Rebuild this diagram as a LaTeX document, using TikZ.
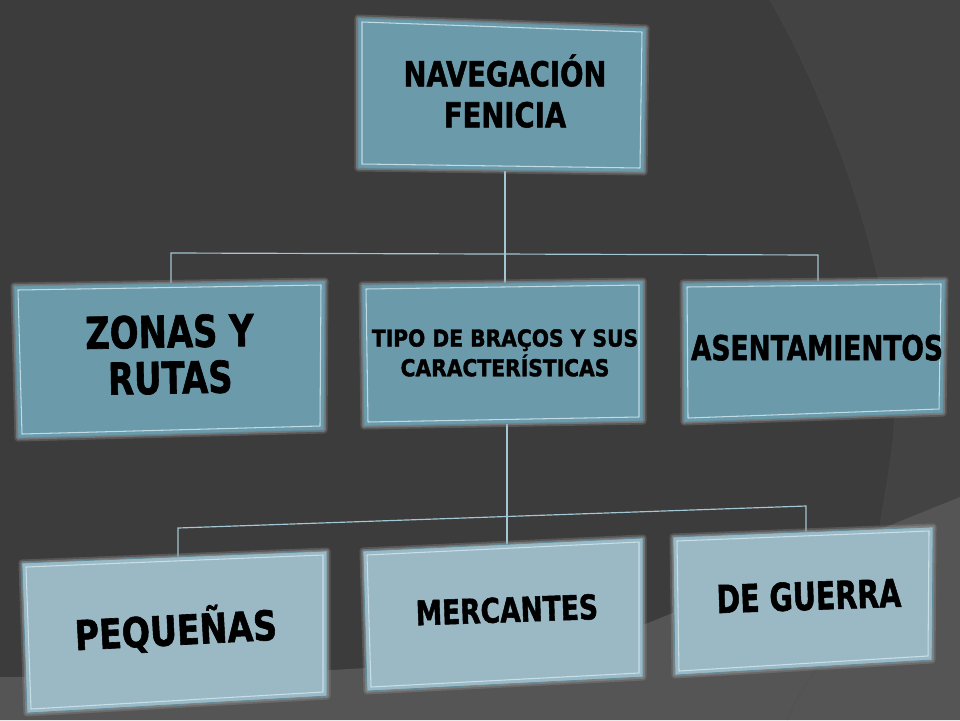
\documentclass[tikz,border=0pt]{standalone}
\usepackage{fontspec}
\usepackage{graphicx}
\newfontfamily\lblfont{DejaVu Sans}[BoldFeatures={FakeBold=1.6}]
\usetikzlibrary{calc}
\definecolor{bgbase}{HTML}{3C3C3C}
\definecolor{bgright}{HTML}{434343}
\definecolor{bgfloor}{HTML}{555555}
\definecolor{boxdark}{HTML}{6B9AAB}
\definecolor{boxlight}{HTML}{9BB9C5}
\definecolor{boxhi}{HTML}{CFE7EF}
\definecolor{boxedge}{HTML}{5F8B9B}
\definecolor{conn}{HTML}{A3C6D4}
\newcommand\drawbox[5]{%
  \draw[line width=6pt, gray!70, opacity=.25, line join=round] (#1)--(#2)--(#3)--(#4)--cycle;
  \draw[line width=3pt, gray!80, opacity=.45, line join=round] (#1)--(#2)--(#3)--(#4)--cycle;
  \fill[#5, draw=boxedge, line width=.6pt] (#1)--(#2)--(#3)--(#4)--cycle;
  \draw[boxhi, line width=.9pt, opacity=.85, line join=round]
    ($(#1)+(4,4)$)--($(#2)+(-4,4)$)--($(#3)+(-4,-4)$)--($(#4)+(4,-4)$)--cycle;
}
\newcommand\lbl[4]{\fontsize{#1}{#2}\selectfont\lblfont\bfseries\scalebox{#3}[1]{\begin{tabular}{@{}c@{}}#4\end{tabular}}}
\begin{document}
\begin{tikzpicture}[x=0.03cm,y=-0.03cm,
  link/.style={conn, line width=1pt},
  lab/.style={inner sep=0pt, text=black}]
\useasboundingbox (0,0) rectangle (960,720);
% background
\fill[bgbase] (0,0) rectangle (960,720);
\fill[bgright] (770,0) .. controls (850,140) and (905,330) .. (893,440)
  .. controls (889,475) and (884,500) .. (880,525) -- (960,525) -- (960,0) -- cycle;
\draw[black!70, opacity=.35, line width=1pt] (770,0) .. controls (850,140) and (905,330) .. (893,440)
  .. controls (889,475) and (884,500) .. (880,525);
\fill[bgfloor] (0,677) .. controls (450,677) and (560,650) .. (643,625) -- (960,497) -- (960,720) -- (0,720) -- cycle;
\draw[black!70, opacity=.3, line width=1pt] (787,720) .. controls (800,690) and (815,668) .. (835,650);

% box corners
\coordinate (A1) at (358,18);  \coordinate (A2) at (646,28);  \coordinate (A3) at (644,172); \coordinate (A4) at (358,168);
\coordinate (B1) at (14,286);  \coordinate (B2) at (325,281); \coordinate (B3) at (324,430); \coordinate (B4) at (18,438);
\coordinate (C1) at (362,285); \coordinate (C2) at (643,281); \coordinate (C3) at (643,421); \coordinate (C4) at (364,426);
\coordinate (D1) at (683,283); \coordinate (D2) at (945,280); \coordinate (D3) at (943,413); \coordinate (D4) at (684,422);
\coordinate (E1) at (22,563);  \coordinate (E2) at (327,551); \coordinate (E3) at (327,696); \coordinate (E4) at (27,713);
\coordinate (F1) at (363,551); \coordinate (F2) at (643,538); \coordinate (F3) at (643,677); \coordinate (F4) at (367,691);
\coordinate (G1) at (673,537); \coordinate (G2) at (933,527); \coordinate (G3) at (932,660); \coordinate (G4) at (675,675);

% connector anchors
\coordinate (A-s) at (505,171);
\coordinate (J1w) at (171,253);
\coordinate (J1e) at (818,255);
\coordinate (B-n) at (171,286);
\coordinate (C-n) at (505,284);
\coordinate (D-n) at (818,283);
\coordinate (C-s) at (507,423);
\coordinate (J2w) at (178,528);
\coordinate (J2e) at (806,506);
\coordinate (E-n) at (178,558);
\coordinate (F-n) at (507,546);
\coordinate (G-n) at (806,532);

% connectors
\draw[link] (A-s) -- (C-n);
\draw[link] (B-n) -- (J1w) -- (J1e) -- (D-n);
\draw[link] (C-s) -- (F-n);
\draw[link] (E-n) -- (J2w) -- (J2e) -- (G-n);

% boxes
\drawbox{A1}{A2}{A3}{A4}{boxdark}
\drawbox{B1}{B2}{B3}{B4}{boxdark}
\drawbox{C1}{C2}{C3}{C4}{boxdark}
\drawbox{D1}{D2}{D3}{D4}{boxdark}
\drawbox{E1}{E2}{E3}{E4}{boxlight}
\drawbox{F1}{F2}{F3}{F4}{boxlight}
\drawbox{G1}{G2}{G3}{G4}{boxlight}

% labels
\node[lab] (tA) at (505,97) {\lbl{29.3}{35}{.80}{NAVEGACIÓN\\FENICIA}};
\node[lab, rotate=1] (tB) at (170,361) {\lbl{37.5}{38.5}{.77}{ZONAS Y\\RUTAS}};
\node[lab] (tC) at (505,356) {\lbl{19.9}{23}{.87}{TIPO DE BRAÇOS Y SUS\\CARACTERÍSTICAS}};
\node[lab] (tD) at (817,352) {\lbl{29.3}{35}{.77}{ASENTAMIENTOS}};
\node[lab, rotate=3] (tE) at (176,633) {\lbl{35}{40}{.81}{PEQUEÑAS}};
\node[lab, rotate=2] (tF) at (507,614) {\lbl{29}{35}{.78}{MERCANTES}};
\node[lab, rotate=2] (tG) at (809,601) {\lbl{32.8}{38}{.74}{DE GUERRA}};
\end{tikzpicture}
\end{document}
